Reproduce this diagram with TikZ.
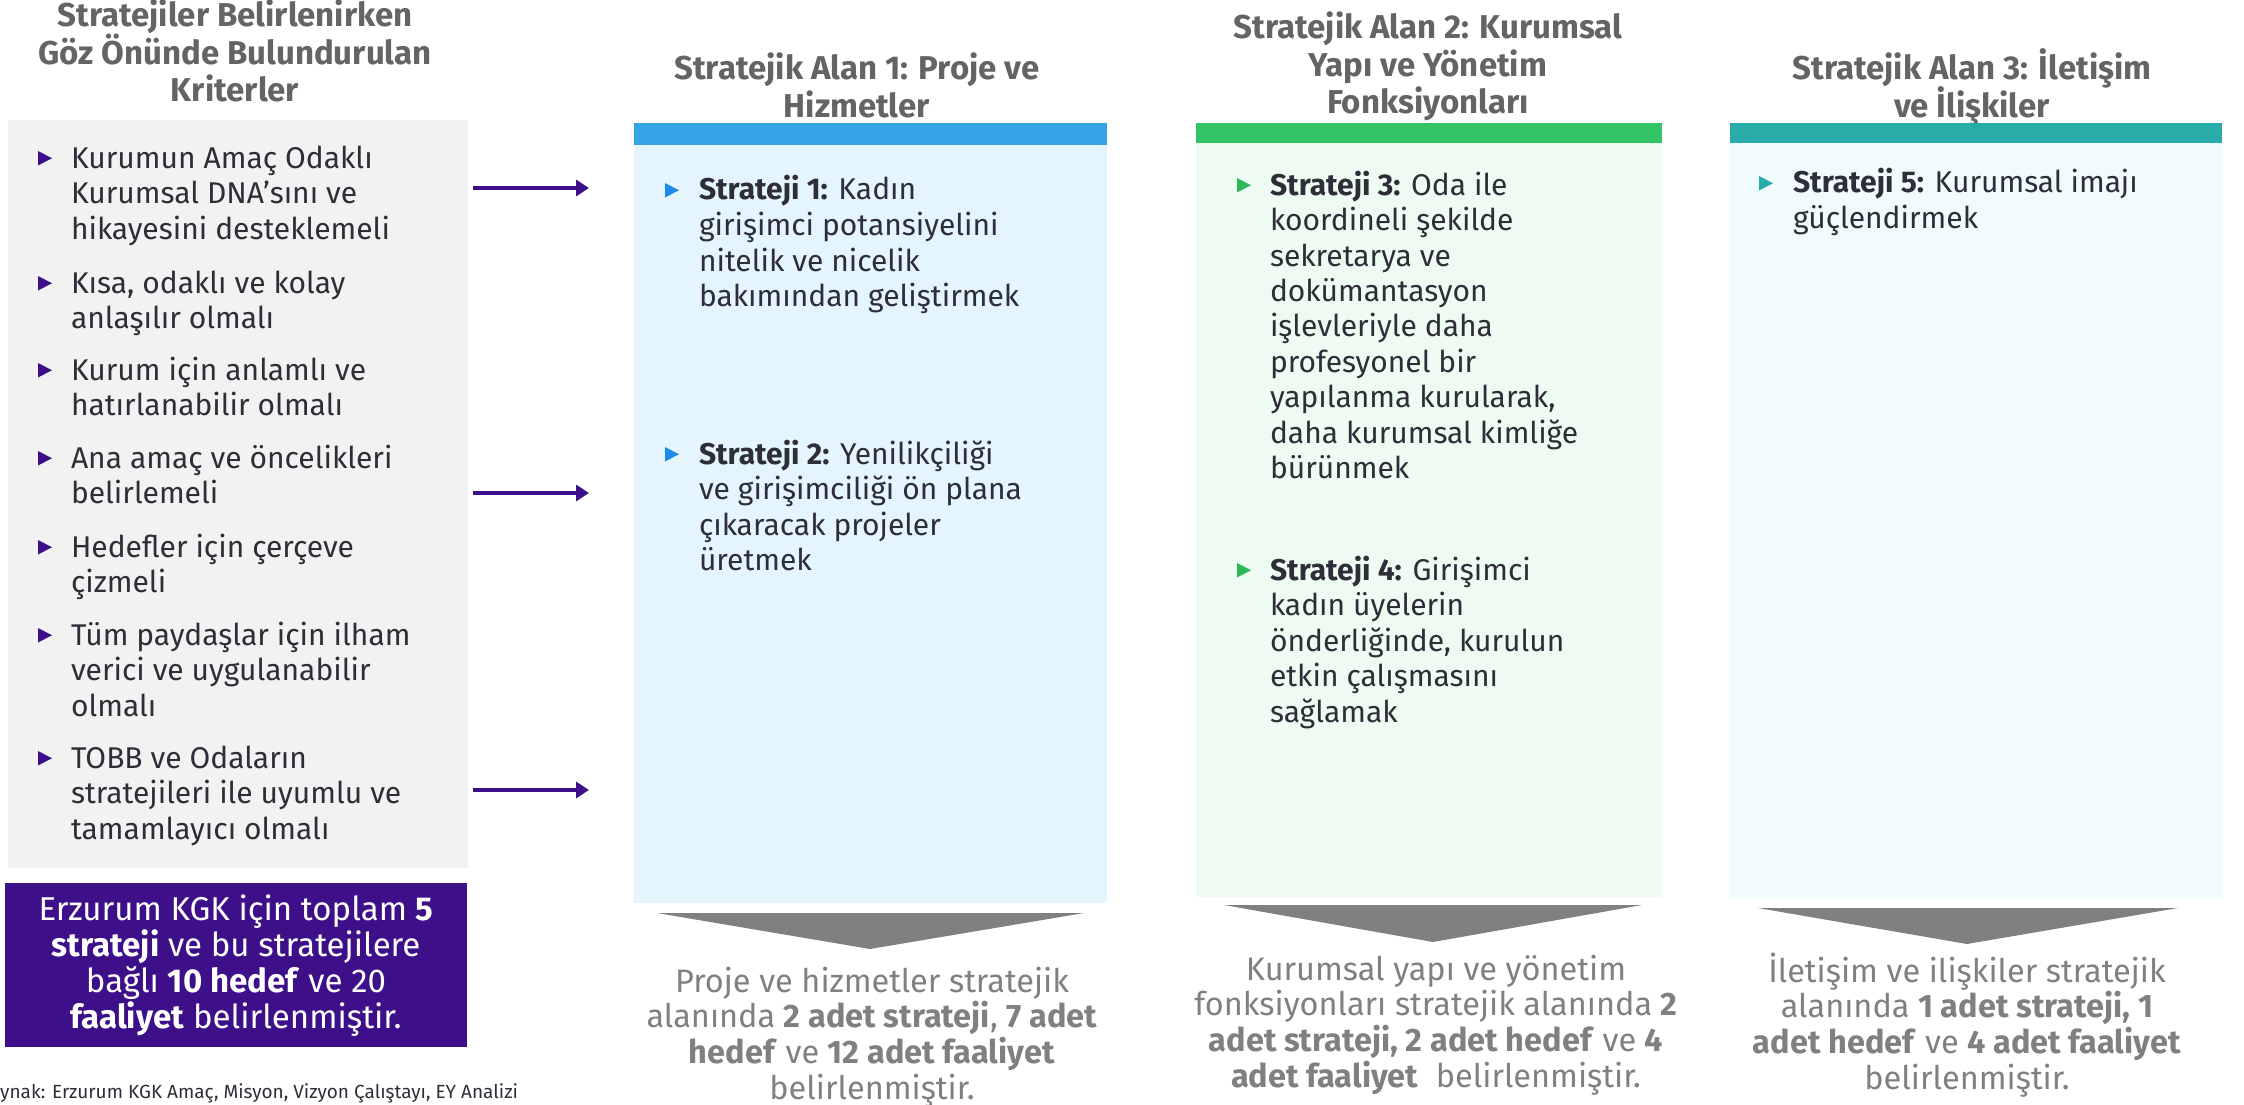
\documentclass[tikz,border=0pt]{standalone}
\usepackage{fontspec}
\setmainfont{Fira Sans}
\usetikzlibrary{arrows.meta}
\definecolor{txtdark}{HTML}{2E2E38}
\definecolor{headgray}{HTML}{646464}
\definecolor{botgray}{HTML}{808080}
\definecolor{critfill}{HTML}{F2F2F2}
\definecolor{eypurple}{HTML}{3D1089}
\definecolor{barblue}{HTML}{35A3E6}
\definecolor{bulblue}{HTML}{1E8CE6}
\definecolor{fillblue}{HTML}{E4F5FD}
\definecolor{bargreen}{HTML}{33C466}
\definecolor{bulgreen}{HTML}{2DB757}
\definecolor{fillgreen}{HTML}{EEFBF3}
\definecolor{barteal}{HTML}{27ACAA}
\definecolor{fillteal}{HTML}{EFFBFC}
\newcommand\clines[1]{\vtop{\halign{\hfil##\hfil\cr#1\crcr}}}
\newcommand\llines[1]{\vtop{\halign{##\hfil\cr#1\crcr}}}
\newcommand\fbody{\fontsize{30}{35.5}\selectfont\lineskiplimit=-1000pt\lineskip=0pt\relax}
\newcommand\fhead{\fontsize{33}{37.5}\selectfont\lineskiplimit=-1000pt\lineskip=0pt\bfseries\relax}
\newcommand\fbot{\fontsize{32.5}{35.8}\selectfont\lineskiplimit=-1000pt\lineskip=0pt\relax}
\newcommand\fpurp{\fontsize{33}{36}\selectfont\lineskiplimit=-1000pt\lineskip=0pt\relax}
\newcommand\fsrc{\fontsize{19}{22}\selectfont\relax}
\newcommand\bul[3]{\fill[#1] (#2,#3-17) -- (#2,#3-2.5) -- (#2+14,#3-9.75) -- cycle;}
\tikzset{
  panel/.style={inner sep=0pt, outer sep=0pt, anchor=north west},
  txt/.style={inner sep=0pt, outer sep=0pt, anchor=base west, text=txtdark, font=\fbody},
  head/.style={inner sep=0pt, outer sep=0pt, anchor=base, text=headgray, font=\fhead},
  bot/.style={inner sep=0pt, outer sep=0pt, anchor=base, text=botgray, font=\fbot},
  arr/.style={draw=eypurple, line width=3.5pt, -{Triangle[length=13pt, width=16pt]}},
  chev/.style={fill=botgray}
}
\begin{document}
\begin{tikzpicture}[x=1pt, y=-1pt]
\useasboundingbox (0,0) rectangle (2244,1105);

% ---------- left column ----------
\node[head] (h0) at (235,27) {\clines{Stratejiler Belirlenirken\cr Göz Önünde Bulundurulan\cr Kriterler}};
\node[panel, fill=critfill, minimum width=460, minimum height=748] (crit) at (8,120) {};

\node[txt] (c1) at (71,168) {\llines{Kurumun Amaç Odaklı\cr Kurumsal DNA’sını ve\cr hikayesini desteklemeli}};
\node[txt] (c2) at (71,293) {\llines{Kısa, odaklı ve kolay\cr anlaşılır olmalı}};
\node[txt] (c3) at (71,380) {\llines{Kurum için anlamlı ve\cr hatırlanabilir olmalı}};
\node[txt] (c4) at (71,468) {\llines{Ana amaç ve öncelikleri\cr belirlemeli}};
\node[txt] (c5) at (71,557) {\llines{Hedefler için çerçeve\cr çizmeli}};
\node[txt] (c6) at (71,645) {\llines{Tüm paydaşlar için ilham\cr verici ve uygulanabilir\cr olmalı}};
\node[txt] (c7) at (71,768) {\llines{TOBB ve Odaların\cr stratejileri ile uyumlu ve\cr tamamlayıcı olmalı}};
\bul{eypurple}{38}{168}
\bul{eypurple}{38}{293}
\bul{eypurple}{38}{380}
\bul{eypurple}{38}{468}
\bul{eypurple}{38}{557}
\bul{eypurple}{38}{645}
\bul{eypurple}{38}{768}

\node[panel, fill=eypurple, minimum width=462, minimum height=164] (sum) at (5,883) {};
\node[inner sep=0pt, anchor=base, text=white, font=\fpurp] (sumt) at (236,920)
  {\clines{Erzurum KGK için toplam \textbf{5}\cr \textbf{strateji} ve bu stratejilere\cr bağlı \textbf{10 hedef} ve 20\cr \textbf{faaliyet} belirlenmiştir.}};

\node[inner sep=0pt, anchor=base west, text=txtdark, font=\fsrc] (src) at (0,1098)
  {ynak: Erzurum KGK Amaç, Misyon, Vizyon Çalıştayı, EY Analizi};

% ---------- arrows ----------
\coordinate (a1s) at (473,188);  \coordinate (a1e) at (589,188);
\coordinate (a2s) at (473,493);  \coordinate (a2e) at (589,493);
\coordinate (a3s) at (473,790);  \coordinate (a3e) at (589,790);
\draw[arr] (a1s) -- (a1e);
\draw[arr] (a2s) -- (a2e);
\draw[arr] (a3s) -- (a3e);

% ---------- column 1 ----------
\node[head] (h1) at (857,80) {\clines{Stratejik Alan 1: Proje ve\cr Hizmetler}};
\node[panel, fill=fillblue, minimum width=473, minimum height=758] (p1) at (634,145) {};
\node[panel, fill=barblue, minimum width=473, minimum height=22] (b1) at (634,123) {};
\node[txt] (s1) at (699,200) {\llines{\textbf{Strateji 1:} Kadın\cr girişimci potansiyelini\cr nitelik ve nicelik\cr bakımından geliştirmek}};
\node[txt] (s2) at (699,464) {\llines{\textbf{Strateji 2:} Yenilikçiliği\cr ve girişimciliği ön plana\cr çıkaracak projeler\cr üretmek}};
\bul{bulblue}{665}{200}
\bul{bulblue}{665}{464}
\fill[chev] (657,913) -- (1084,913) -- (870,949) -- cycle;
\node[bot] (r1) at (872,992) {\clines{Proje ve hizmetler stratejik\cr alanında \textbf{2 adet strateji}, \textbf{7 adet}\cr \textbf{hedef} ve \textbf{12 adet faaliyet}\cr belirlenmiştir.}};

% ---------- column 2 ----------
\node[head] (h2) at (1428,39) {\clines{Stratejik Alan 2: Kurumsal\cr Yapı ve Yönetim\cr Fonksiyonları}};
\node[panel, fill=fillgreen, minimum width=466, minimum height=754] (p2) at (1196,143) {};
\node[panel, fill=bargreen, minimum width=466, minimum height=20] (b2) at (1196,123) {};
\node[txt] (s3) at (1270,195) {\llines{\textbf{Strateji 3:} Oda ile\cr koordineli şekilde\cr sekretarya ve\cr dokümantasyon\cr işlevleriyle daha\cr profesyonel bir\cr yapılanma kurularak,\cr daha kurumsal kimliğe\cr bürünmek}};
\node[txt] (s4) at (1270,580) {\llines{\textbf{Strateji 4:} Girişimci\cr kadın üyelerin\cr önderliğinde, kurulun\cr etkin çalışmasını\cr sağlamak}};
\bul{bulgreen}{1237}{195}
\bul{bulgreen}{1237}{580}
\fill[chev] (1224,905) -- (1642,905) -- (1433,942) -- cycle;
\node[bot] (r2) at (1436,980) {\clines{Kurumsal yapı ve yönetim\cr fonksiyonları stratejik alanında \textbf{2}\cr \textbf{adet strateji, 2 adet hedef} ve \textbf{4}\cr \textbf{adet faaliyet}\ \ belirlenmiştir.}};

% ---------- column 3 ----------
\node[head] (h3) at (1972,80) {\clines{Stratejik Alan 3: İletişim\cr ve İlişkiler}};
\node[panel, fill=fillteal, minimum width=492, minimum height=755] (p3) at (1730,143) {};
\node[panel, fill=barteal, minimum width=492, minimum height=20] (b3) at (1730,123) {};
\node[txt] (s5) at (1793,193) {\llines{\textbf{Strateji 5:} Kurumsal imajı\cr güçlendirmek}};
\bul{barteal}{1759}{193}
\fill[chev] (1758,908) -- (2178,908) -- (1967,944) -- cycle;
\node[bot] (r3) at (1967,982) {\clines{İletişim ve ilişkiler stratejik\cr alanında \textbf{1 adet strateji, 1}\cr \textbf{adet hedef} ve \textbf{4 adet faaliyet}\cr belirlenmiştir.}};
\end{tikzpicture}
\end{document}
